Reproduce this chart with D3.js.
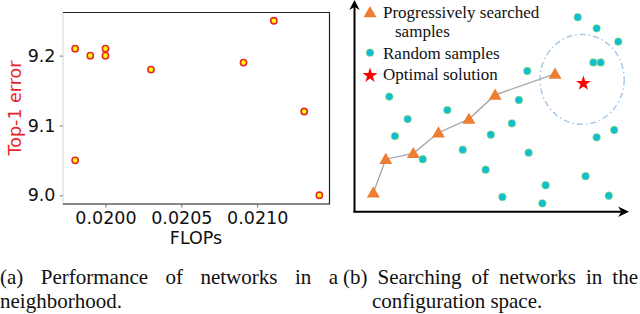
<!DOCTYPE html>
<html><head><meta charset="utf-8">
<script src="https://cdn.jsdelivr.net/npm/d3@7"></script>
<style>
body{margin:0;background:#fff}svg{display:block}
</style>
</head><body><svg id="c" width="640" height="314"></svg>
<script>
// ---- Panel (a): performance of networks in a neighborhood ----
const flops = [0.01980, 0.01990, 0.02000, 0.02000, 0.02030, 0.02091, 0.02111, 0.02131, 0.01980, 0.02141];
const top1Error = [9.21, 9.20, 9.21, 9.20, 9.18, 9.19, 9.25, 9.12, 9.05, 9.00];
const xTickValues = [0.0200, 0.0205, 0.0210];
const yTickValues = [9.0, 9.1, 9.2];
const xLabelA = "FLOPs";
const yLabelA = "Top-1 error";

// ---- Panel (b): searching in the configuration space (schematic units 0-100) ----
const searchedX = [6.8, 11.4, 21.6, 30.9, 42.2, 51.9, 74.1];
const searchedY = [9.0, 25.0, 27.8, 37.6, 44.1, 55.6, 65.6];
const randomX = [82.5, 89.5, 97.5, 88.3, 91.0, 63.8, 12.7, 34.2, 60.7, 19.5, 58.1, 14.8, 50.3, 89.5, 96.0, 39.9, 64.3, 25.1, 48.4, 85.4, 70.6, 54.6, 69.4, 94.0];
const randomY = [92.6, 87.3, 81.0, 71.1, 71.1, 67.0, 54.8, 48.4, 53.2, 44.1, 42.1, 36.0, 36.7, 35.4, 38.9, 29.5, 28.1, 25.0, 20.0, 16.9, 12.6, 7.0, 4.0, 7.6];
const optimalX = [84.6];
const optimalY = [61.1];
const neighborhoodCenterX = [84.1];
const neighborhoodCenterY = [63.0];
const neighborhoodRadius = [15.6, 21.4];
const legendLabels = [["Progressively searched", "samples"], ["Random samples"], ["Optimal solution"]];

const captionA = [["(a)", "Performance", "of", "networks", "in", "a"], ["neighborhood."]];
const captionB = [["(b)", "Searching", "of", "networks", "in", "the"], ["configuration space."]];

// pick an installed serif font
function pickFont(cands, fallback) {
  const ctx = document.createElement("canvas").getContext("2d");
  const s = "Performance of networks mmmwwwiii 0123";
  ctx.font = "40px monospace"; const m = ctx.measureText(s).width;
  ctx.font = "40px sans-serif"; const sa = ctx.measureText(s).width;
  for (const c of cands) {
    ctx.font = `40px "${c}", monospace`; const w1 = ctx.measureText(s).width;
    ctx.font = `40px "${c}", sans-serif`; const w2 = ctx.measureText(s).width;
    if (w1 !== m && w2 !== sa) return `"${c}"`;
  }
  return fallback;
}
const serifFont = pickFont(["Liberation Serif", "Tinos", "Times New Roman", "Times", "Nimbus Roman", "Nimbus Roman No9 L", "FreeSerif", "Noto Serif", "DejaVu Serif", "Georgia", "Noto Serif CJK SC", "Noto Serif CJK JP"], "serif");
const sansFont = "'DejaVu Sans', sans-serif";

const svg = d3.select("#c");

// ===== Panel (a) =====
const xA = d3.scaleLinear().domain([0.01972, 0.02148]).range([63, 330]);
const yA = d3.scaleLinear().domain([8.9875, 9.2625]).range([204, 12]);
const gA = svg.append("g");

// spines
gA.append("line").attr("x1", 63).attr("x2", 63).attr("y1", 12).attr("y2", 204).attr("stroke", "#dcdcdc").attr("stroke-width", 1.2);
gA.append("line").attr("x1", 63).attr("x2", 330).attr("y1", 12.5).attr("y2", 12.5).attr("stroke", "#222").attr("stroke-width", 1.2);
gA.append("line").attr("x1", 329.5).attr("x2", 329.5).attr("y1", 12).attr("y2", 204).attr("stroke", "#222").attr("stroke-width", 1.2);
gA.append("line").attr("x1", 63).attr("x2", 330).attr("y1", 204).attr("y2", 204).attr("stroke", "#111").attr("stroke-width", 1.2);

const xAxis = d3.axisBottom(xA).tickValues(xTickValues).tickFormat(d3.format(".4f")).tickSize(3.5).tickPadding(4);
const gx = gA.append("g").attr("transform", "translate(0,204)").call(xAxis);
gx.select(".domain").remove();
gx.attr("font-family", sansFont).attr("font-size", 17.5);
gx.selectAll("line").attr("stroke", "#666");
gx.selectAll("text").attr("fill", "#111");

const yAxis = d3.axisLeft(yA).tickValues(yTickValues).tickFormat(d3.format(".1f")).tickSize(3.5).tickPadding(4);
const gy = gA.append("g").attr("transform", "translate(63,0)").call(yAxis);
gy.select(".domain").remove();
gy.attr("font-family", sansFont).attr("font-size", 17.5);
gy.selectAll("line").attr("stroke", "#888");
gy.selectAll("text").attr("fill", "#111");

gA.append("text").attr("x", 196).attr("y", 244).attr("text-anchor", "middle")
  .attr("font-family", sansFont).attr("font-size", 17.5).attr("fill", "#111").text(xLabelA);
gA.append("text").attr("transform", "translate(21,108) rotate(-90)").attr("text-anchor", "middle")
  .attr("font-family", sansFont).attr("font-size", 17.5).attr("fill", "#e8262b").text(yLabelA);

gA.selectAll("circle.pt").data(flops.map((f, i) => [f, top1Error[i]])).join("circle")
  .attr("class", "pt").attr("cx", d => xA(d[0])).attr("cy", d => yA(d[1])).attr("r", 3.1)
  .attr("fill", "#ffff00").attr("stroke", "#e8262b").attr("stroke-width", 1.6);

// ===== Panel (b) =====
const xB = d3.scaleLinear().domain([0, 100]).range([355, 625]);
const yB = d3.scaleLinear().domain([0, 100]).range([211.7, 1.7]);
const gB = svg.append("g");

// axes with arrows
gB.append("line").attr("x1", 354.5).attr("x2", 354.5).attr("y1", 212.5).attr("y2", 3).attr("stroke", "#000").attr("stroke-width", 2);
gB.append("line").attr("x1", 353.5).attr("x2", 625).attr("y1", 211.7).attr("y2", 211.7).attr("stroke", "#000").attr("stroke-width", 2);
gB.append("path").attr("d", "M629,211.7 L618,206.5 L621.5,211.7 L618,217 Z").attr("fill", "#000");
gB.append("path").attr("d", "M354.5,0 L349.3,10 L354.5,7 L359.7,10 Z").attr("fill", "#000");

// neighborhood circle
gB.append("ellipse").attr("cx", xB(neighborhoodCenterX[0])).attr("cy", yB(neighborhoodCenterY[0]))
  .attr("rx", xB(neighborhoodRadius[0]) - xB(0)).attr("ry", yB(0) - yB(neighborhoodRadius[1]))
  .attr("fill", "none").attr("stroke", "#9dc3e6").attr("stroke-width", 1.3).attr("stroke-dasharray", "6 3 1.5 3");

// path line
const pts = searchedX.map((x, i) => [xB(x), yB(searchedY[i])]);
gB.append("path").attr("d", d3.line()(pts)).attr("fill", "none").attr("stroke", "#a6a6a6").attr("stroke-width", 1.3);

// random samples
gB.selectAll("circle.rnd").data(randomX.map((x, i) => [x, randomY[i]])).join("circle")
  .attr("class", "rnd").attr("cx", d => xB(d[0])).attr("cy", d => yB(d[1])).attr("r", 3.9)
  .attr("fill", "#10bfd0").attr("stroke", "#e6e85a").attr("stroke-width", 0.5);

// searched triangles
const tri = d3.symbol().type(d3.symbolTriangle).size(72);
gB.selectAll("path.tri").data(pts).join("path").attr("class", "tri")
  .attr("transform", d => `translate(${d[0]},${d[1] + 1})`).attr("d", tri).attr("fill", "#ed7d31");

// optimal star
const star = d3.symbol().type(d3.symbolStar).size(70);
gB.selectAll("path.star").data(optimalX.map((x, i) => [x, optimalY[i]])).join("path").attr("class", "star")
  .attr("transform", d => `translate(${xB(d[0])},${yB(d[1])})`).attr("d", star).attr("fill", "#ff0000");

// legend
const lg = gB.append("g").attr("fill", "#111").attr("font-family", serifFont).attr("font-size", 17);
lg.append("path").attr("transform", "translate(370,13.5)").attr("d", tri).attr("fill", "#ed7d31");
lg.append("circle").attr("cx", 370).attr("cy", 52.7).attr("r", 3.9).attr("fill", "#10bfd0").attr("stroke", "#e6e85a").attr("stroke-width", 0.5);
lg.append("path").attr("transform", "translate(370,75.5)").attr("d", star).attr("fill", "#ff0000");
[[383, 17.5, legendLabels[0][0]], [395, 36.5, legendLabels[0][1]], [383, 59, legendLabels[1][0]], [383, 79.5, legendLabels[2][0]]]
  .forEach(([x, y, t]) => lg.append("text").attr("x", x).attr("y", y).text(t));

// ===== Captions =====
const cg = svg.append("g").attr("fill", "#111").attr("font-family", serifFont).attr("font-size", 21);
function justify(words, x0, x1, y) {
  const ts = words.map(w => cg.append("text").attr("y", y).text(w));
  const widths = ts.map(t => t.node().getComputedTextLength());
  const gap = (x1 - x0 - d3.sum(widths)) / (words.length - 1);
  let x = x0;
  ts.forEach((t, i) => { t.attr("x", x); x += widths[i] + gap; });
}
justify(captionA[0], 0, 338, 284);
justify(captionB[0], 343, 638, 284);
cg.append("text").attr("x", 0).attr("y", 308).text(captionA[1][0]);
cg.append("text").attr("x", 372).attr("y", 308).text(captionB[1][0]);
</script></body></html>
